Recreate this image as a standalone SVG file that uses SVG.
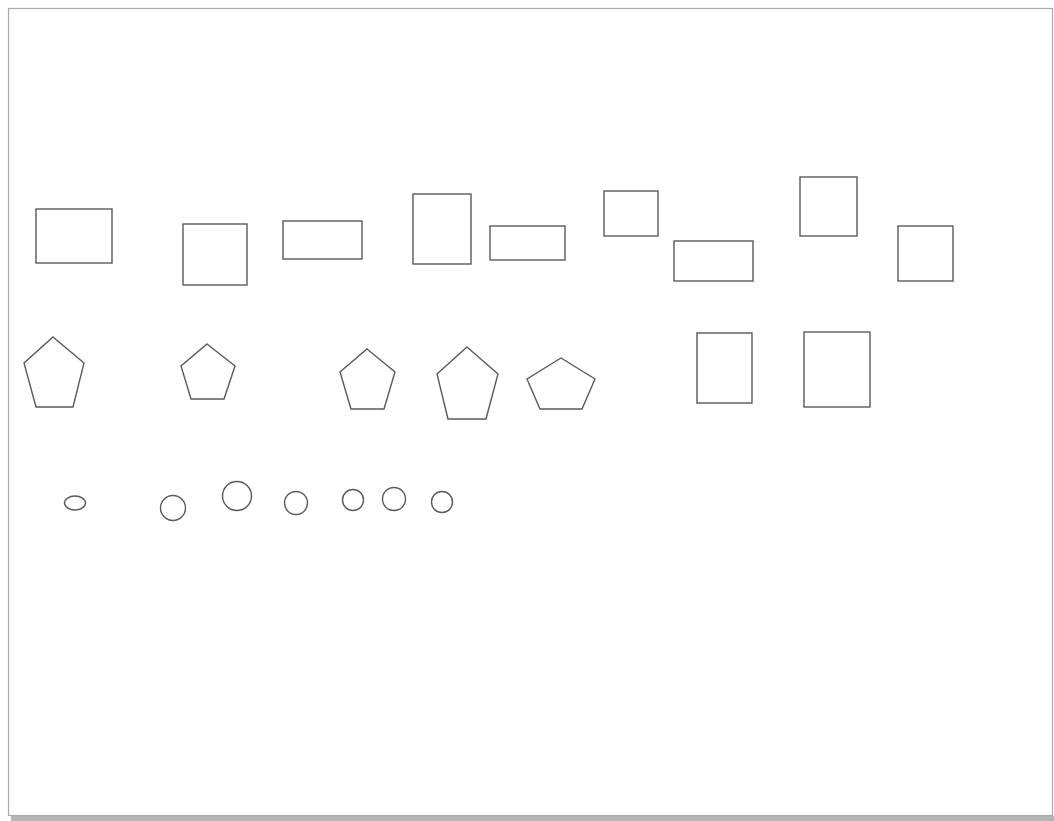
<svg xmlns="http://www.w3.org/2000/svg" width="1054" height="821" viewBox="0 0 1054 821">
<style>
.s{fill:none;stroke:#5a5a5a;stroke-width:1.4}
</style>
<rect x="0" y="0" width="1054" height="821" fill="#fff"/>
<rect x="11" y="816" width="1043" height="5" fill="#b4b4b4"/>
<rect x="8.5" y="8.5" width="1044" height="807" fill="#fff" stroke="#aaa" stroke-width="1.2"/>
<g id="rects">
<g id="r1"><rect class="s" x="36" y="209" width="76" height="54"/></g>
<g id="r2"><rect class="s" x="183" y="224" width="64" height="61"/></g>
<g id="r3"><rect class="s" x="283" y="221" width="79" height="38"/></g>
<g id="r4"><rect class="s" x="413" y="194" width="58" height="70"/></g>
<g id="r5"><rect class="s" x="490" y="226" width="75" height="34"/></g>
<g id="r6"><rect class="s" x="604" y="191" width="54" height="45"/></g>
<g id="r7"><rect class="s" x="674" y="241" width="79" height="40"/></g>
<g id="r8"><rect class="s" x="800" y="177" width="57" height="59"/></g>
<g id="r9"><rect class="s" x="898" y="226" width="55" height="55"/></g>
<g id="r10"><rect class="s" x="697" y="333" width="55" height="70"/></g>
<g id="r11"><rect class="s" x="804" y="332" width="66" height="75"/></g>
</g>
<g id="pentagons">
<g id="p1"><polygon class="s" points="53,337 84,363 73,407 36,407 24,363"/></g>
<g id="p2"><polygon class="s" points="207,344 235,366 224,399 191,399 181,366"/></g>
<g id="p3"><polygon class="s" points="367,349 395,372 384,409 351,409 340,372"/></g>
<g id="p4"><polygon class="s" points="467,347 498,374 486,419 448,419 437,374"/></g>
<g id="p5"><polygon class="s" points="561,358 595,379 582,409 540,409 527,379"/></g>
</g>
<g id="circles">
<g id="c1"><ellipse class="s" cx="75" cy="503" rx="10.5" ry="7"/></g>
<g id="c2"><circle class="s" cx="173" cy="508" r="12.5"/></g>
<g id="c3"><circle class="s" cx="237" cy="496" r="14.5"/></g>
<g id="c4"><circle class="s" cx="296" cy="503" r="11.5"/></g>
<g id="c5"><circle class="s" cx="353" cy="500" r="10.5"/></g>
<g id="c6"><circle class="s" cx="394" cy="499" r="11.5"/></g>
<g id="c7"><circle class="s" cx="442" cy="502" r="10.5"/></g>
</g>
<g id="connectors"></g>
</svg>
